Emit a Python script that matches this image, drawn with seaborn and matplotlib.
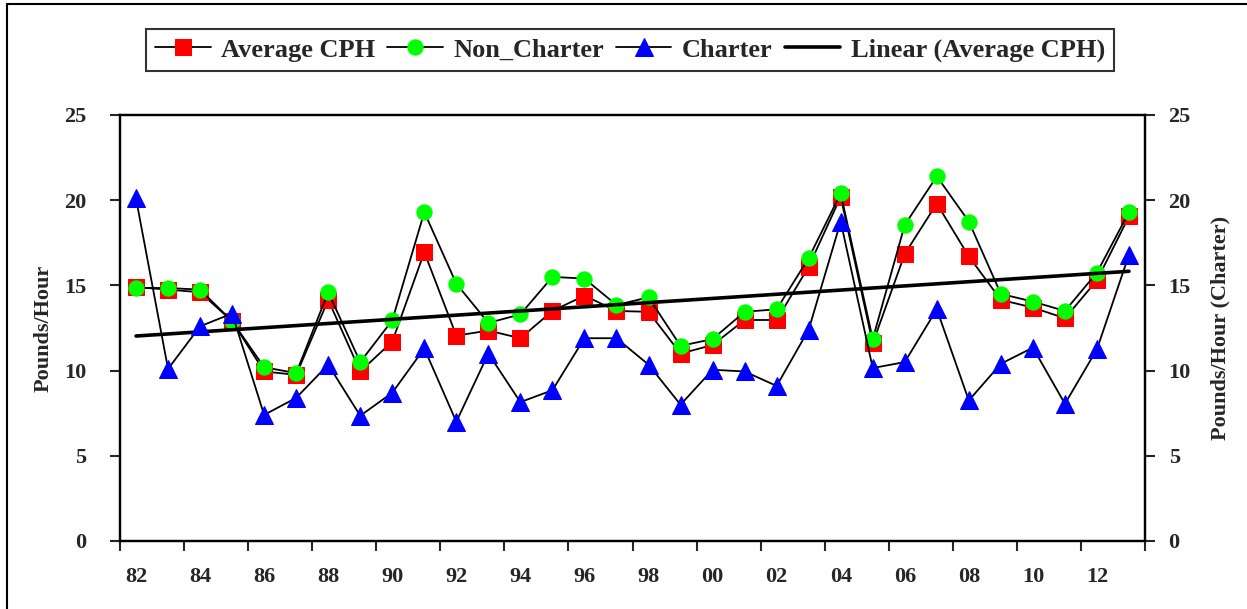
import numpy as np
import seaborn as sns
import matplotlib
matplotlib.use('Agg')
import matplotlib.pyplot as plt
from matplotlib.lines import Line2D

# Data (fishing years 1982-2013)
years = ['82', '83', '84', '85', '86', '87', '88', '89', '90', '91', '92', '93', '94', '95', '96', '97',
         '98', '99', '00', '01', '02', '03', '04', '05', '06', '07', '08', '09', '10', '11', '12', '13']
avg_cph = [14.9, 14.75, 14.6, 12.9, 9.95, 9.75, 14.15, 9.95, 11.7, 16.95, 12.05, 12.35, 11.9, 13.5, 14.4, 13.5,
           13.45, 11.0, 11.5, 12.97, 12.97, 16.1, 20.2, 11.6, 16.85, 19.8, 16.7, 14.15, 13.7, 13.07, 15.3, 19.05]
non_charter = [14.85, 14.85, 14.75, 12.9, 10.2, 9.85, 14.6, 10.5, 12.95, 19.3, 15.1, 12.8, 13.3, 15.5, 15.4, 13.85,
               14.3, 11.45, 11.85, 13.45, 13.6, 16.6, 20.4, 11.85, 18.55, 21.4, 18.75, 14.5, 14.05, 13.5, 15.75, 19.3]
charter = [20.1, 10.1, 12.6, 13.35, 7.4, 8.4, 10.35, 7.35, 8.7, 11.3, 7.0, 11.0, 8.15, 8.85, 11.9, 11.9,
           10.35, 8.0, 10.05, 9.95, 9.1, 12.4, 18.75, 10.15, 10.5, 13.6, 8.25, 10.4, 11.35, 8.05, 11.25, 16.8]

idx = np.arange(len(years))

sns.set_style('ticks')
plt.rcParams['font.family'] = ['Liberation Serif', 'DejaVu Serif']
plt.rcParams['font.weight'] = 'bold'
plt.rcParams['axes.labelweight'] = 'bold'

fig = plt.figure(figsize=(12.47, 6.09), dpi=100)
ax = fig.add_axes([120 / 1247, 1 - 541 / 609, 1025 / 1247, 426 / 609])

sns.lineplot(x=idx, y=avg_cph, ax=ax, color='black', lw=1.3, marker='s', markersize=11,
             markerfacecolor='#ff0000', markeredgecolor='#ff0000', label='Average CPH')
sns.lineplot(x=idx, y=non_charter, ax=ax, color='black', lw=1.3, marker='o', markersize=11,
             markerfacecolor='#00ff00', markeredgecolor='#00ff00', label='Non_Charter')
sns.regplot(x=idx, y=avg_cph, ax=ax, scatter=False, ci=None, truncate=True,
            line_kws=dict(color='black', lw=2.6, zorder=5))
trend = ax.lines[-1]
trend.set_label('Linear (Average CPH)')

ax2 = ax.twinx()
sns.lineplot(x=idx, y=charter, ax=ax2, color='black', lw=1.3, marker='^', markersize=13,
             markerfacecolor='#0000ff', markeredgecolor='#0000ff', label='Charter')

for a in (ax, ax2):
    a.set_ylim(0, 25)
    a.set_yticks(range(0, 26, 5))
    a.set_xlim(-0.5, len(years) - 0.5)
    for s in a.spines.values():
        s.set_linewidth(1.6)
        s.set_color('black')
    if a.get_legend():
        a.get_legend().remove()

ax.set_xticks(idx[::2])
ax.set_xticklabels(years[::2])
ax.set_xticks(np.arange(-0.5, len(years), 2), minor=True)
ax.tick_params(axis='x', which='major', length=0, pad=19, labelsize=16)
ax.tick_params(axis='x', which='minor', length=7, width=1.5, direction='out')
ax.tick_params(axis='y', length=7, width=1.5, direction='out', pad=17, labelsize=16)
ax2.tick_params(axis='y', length=7, width=1.5, direction='out', pad=10, labelsize=16)

ax.set_ylabel('Pounds/Hour', fontsize=16, labelpad=8)
ax2.set_ylabel('Pounds/Hour (Charter)', fontsize=16, labelpad=14)
ax.set_xlabel('')

h1, l1 = ax.get_legend_handles_labels()
h2, l2 = ax2.get_legend_handles_labels()
hmap = dict(zip(l1 + l2, h1 + h2))
hmap['Linear (Average CPH)'] = trend
order = ['Average CPH', 'Non_Charter', 'Charter', 'Linear (Average CPH)']
leg = fig.legend([hmap[k] for k in order], order, loc='center', bbox_to_anchor=(630 / 1247, 1 - 50 / 609),
                 ncol=4, fontsize=19, frameon=True, fancybox=False, edgecolor='black',
                 handlelength=2.1, handletextpad=0.4, columnspacing=0.45, borderpad=0.35)
leg.get_frame().set_linewidth(1.5)

# outer chart frame (cut at right and bottom)
fig.add_artist(Line2D([7 / 1247, 7 / 1247], [0, 1 - 4 / 609], color='black', lw=1.5))
fig.add_artist(Line2D([7 / 1247, 1], [1 - 4 / 609, 1 - 4 / 609], color='black', lw=1.5))

fig.savefig('out.png', dpi=100)
